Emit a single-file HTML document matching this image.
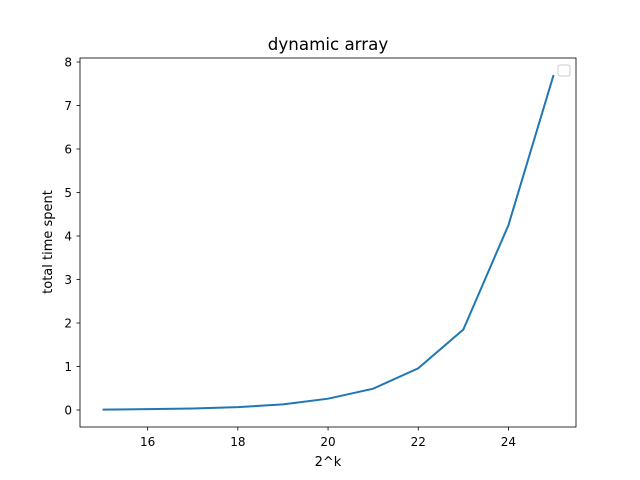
<!DOCTYPE html>
<html><head><meta charset="utf-8"><style>body{margin:0;background:#fff}svg{display:block;font-family:"DejaVu Sans","Liberation Sans",sans-serif}</style></head>
<body>
<svg id="chart" width="640" height="480">
<text x="328" y="50" font-size="16.7" text-anchor="middle">dynamic array</text>
<g id="ticks"></g>
<path id="line" fill="none" stroke="#1f77b4" stroke-width="2"/>
<rect x="80" y="58" width="496" height="369" fill="none" stroke="#000" stroke-width="0.8"/>
<rect x="558" y="65" width="12" height="11" rx="2" fill="#fff" stroke="#ccc"/>
<text x="328" y="466" font-size="13" text-anchor="middle">2^k</text>
<text transform="translate(52,242) rotate(-90)" font-size="13" text-anchor="middle">total time spent</text>
</svg>
<script>
const xs=[15,16,17,18,19,20,21,22,23,24,25];
const ys=[0.01,0.02,0.035,0.065,0.13,0.26,0.49,0.96,1.85,4.25,7.7];
const xTicks=[16,18,20,22,24];
const yTicks=[0,1,2,3,4,5,6,7,8];
const X=v=>80+(v-14.5)*45.1;
const Y=v=>410-v*43.5;
const ns="http://www.w3.org/2000/svg";
const g=document.getElementById('ticks');
function mk(t,a){const e=document.createElementNS(ns,t);for(const k in a)e.setAttribute(k,a[k]);g.appendChild(e);return e;}
xTicks.forEach(t=>{
 const l=mk('line',{x1:X(t),x2:X(t),y1:427,y2:430.5,stroke:'#000','stroke-width':0.8});
 
 
 const s=mk('text',{x:X(t),y:446,'font-size':12,'text-anchor':'middle'});s.textContent=t;
 
 
});
yTicks.forEach(t=>{
 const l=mk('line',{x1:76.5,x2:80,y1:Y(t),y2:Y(t),stroke:'#000','stroke-width':0.8});
 
 
 const s=mk('text',{x:72,y:Y(t)+4.5,'font-size':12,'text-anchor':'end'});s.textContent=t;
 
 
});
document.getElementById('line').setAttribute('d',xs.map((x,i)=>(i?'L':'M')+X(x)+' '+Y(ys[i])).join(' '));
</script>
</body></html>
